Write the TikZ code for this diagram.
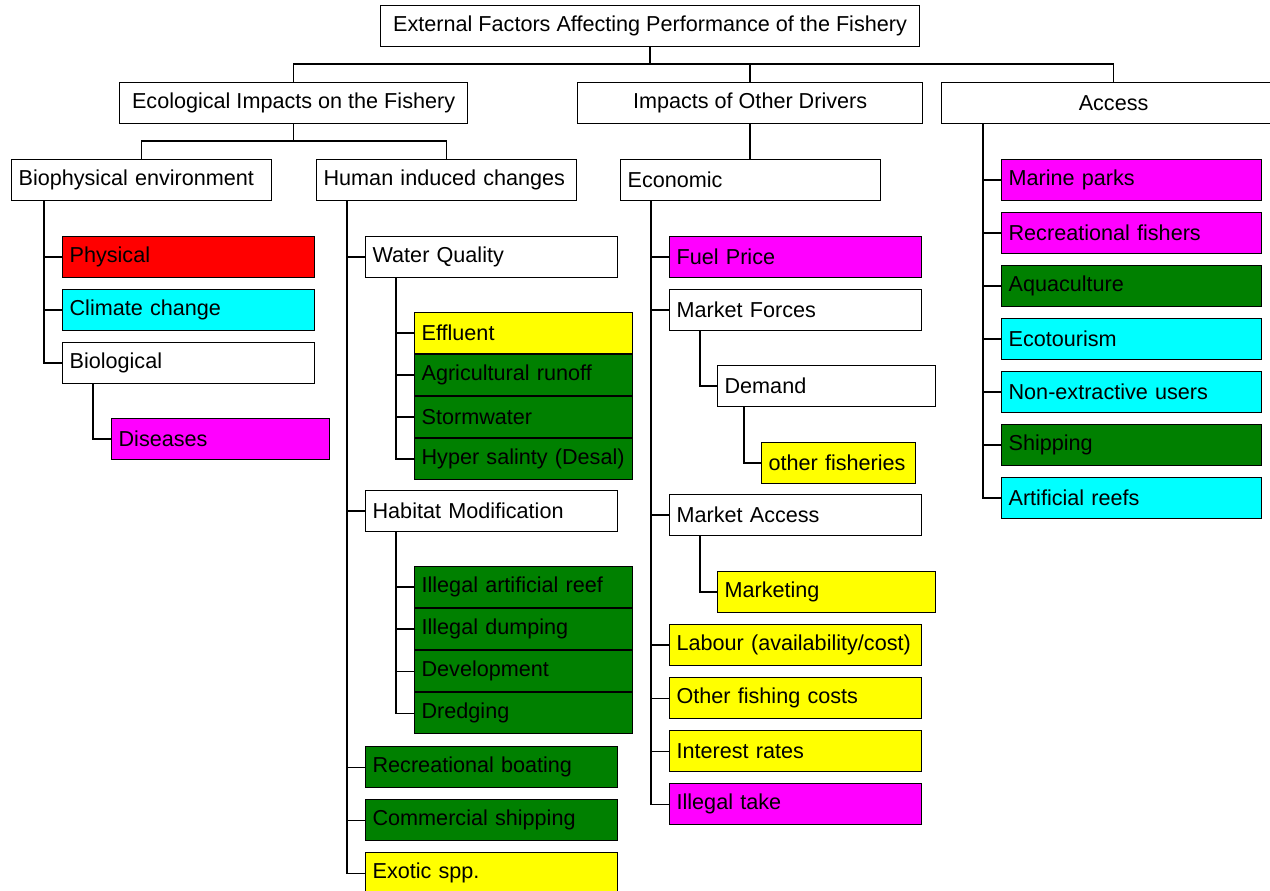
\documentclass[tikz,border=0pt]{standalone}
\usepackage{fontspec}
\setmainfont{Liberation Sans}
\usetikzlibrary{calc}

\definecolor{fred}{HTML}{FF0000}
\definecolor{fcyan}{HTML}{00FFFF}
\definecolor{fmagenta}{HTML}{FF00FF}
\definecolor{fyellow}{HTML}{FFFF00}
\definecolor{fgreen}{HTML}{008000}

\begin{document}
\begin{tikzpicture}
[x=0.02cm,y=-0.02cm,line width=0.7pt,%
  every node/.style={draw,line width=0.7pt,anchor=north west,fill=white,%
    minimum height=0.82cm,inner xsep=0.14cm,inner ysep=0pt,%
    font=\fontsize{12.3}{15}\selectfont,%
    execute at begin node={\hyphenpenalty=10000}},%
  head/.style={minimum width=#1,align=center},%
  wide/.style={text width=4.92cm,align=left},%
  mid/.style={text width=4.76cm,align=left},%
  narrow/.style={text width=4.08cm,align=left}]
\useasboundingbox (0,0) rectangle (1270,891);

\node[head=10.78cm] (ext) at (380,5) {External Factors Affecting Performance of the Fishery};
\node[head=6.96cm] (eco) at (119,82) {Ecological Impacts on the Fishery};
\node[head=6.9cm] (oth) at (577,82) {Impacts of Other Drivers};
\node[head=6.88cm] (acc) at (941,82) {Access};

\node[wide] (bio) at (11,159) {Biophysical environment};
\node[wide] (hum) at (316,159) {Human induced changes};
\node[wide] (econ) at (620,159) {Economic};

\node[mid,fill=fred] (phys) at (62,236) {Physical};
\node[mid,fill=fcyan] (clim) at (62,289) {Climate change};
\node[mid] (biol) at (62,342) {Biological};
\node[narrow,fill=fmagenta] (dis) at (111,418) {Diseases};

\node[mid] (wq) at (365,236) {Water Quality};
\node[narrow,fill=fyellow] (eff) at (414,312) {Effluent};
\node[narrow,fill=fgreen] (agri) at (414,354) {Agricultural runoff};
\node[narrow,fill=fgreen] (storm) at (414,396) {Stormwater};
\node[narrow,fill=fgreen] (hyper) at (414,438) {Hyper salinty (Desal)};
\node[mid] (hab) at (365,490) {Habitat Modification};
\node[narrow,fill=fgreen] (reef) at (414,566) {Illegal artificial reef};
\node[narrow,fill=fgreen] (dump) at (414,608) {Illegal dumping};
\node[narrow,fill=fgreen] (dev) at (414,650) {Development};
\node[narrow,fill=fgreen] (dredge) at (414,692) {Dredging};
\node[mid,fill=fgreen] (rboat) at (365,746) {Recreational boating};
\node[mid,fill=fgreen] (cship) at (365,799) {Commercial shipping};
\node[mid,fill=fyellow] (exotic) at (365,852) {Exotic spp.};

\node[mid,fill=fmagenta] (fuel) at (669,236) {Fuel Price};
\node[mid] (mf) at (669,289) {Market Forces};
\node[narrow] (dem) at (717,365) {Demand};
\node[fill=fyellow,text width=2.8cm,align=left] (ofish) at (761,442) {other fisheries};
\node[mid] (ma) at (669,494) {Market Access};
\node[narrow,fill=fyellow] (mkt) at (717,571) {Marketing};
\node[mid,fill=fyellow] (lab) at (669,624) {Labour (availability/cost)};
\node[mid,fill=fyellow] (ofc) at (669,677) {Other fishing costs};
\node[mid,fill=fyellow] (int) at (669,730) {Interest rates};
\node[mid,fill=fmagenta] (take) at (669,783) {Illegal take};

\node[wide,fill=fmagenta] (park) at (1001,159) {Marine parks};
\node[wide,fill=fmagenta] (rfish) at (1001,212) {Recreational fishers};
\node[wide,fill=fgreen] (aqua) at (1001,265) {Aquaculture};
\node[wide,fill=fcyan] (eco2) at (1001,318) {Ecotourism};
\node[wide,fill=fcyan] (nonex) at (1001,371) {Non-extractive users};
\node[wide,fill=fgreen] (ship) at (1001,424) {Shipping};
\node[wide,fill=fcyan] (areef) at (1001,477) {Artificial reefs};

\coordinate (j0) at (ext.south |- 0,64);
\draw (ext.south) -- (j0);
\draw (eco.north) |- (j0) -| (acc.north);
\draw (oth.north) -- (oth.north |- j0);

\coordinate (j1) at (eco.south |- 0,141);
\draw (eco.south) -- (j1);
\draw (bio.north) |- (j1) -| (hum.north);
\draw (oth.south) -- (oth.south |- econ.north);

\foreach \c in {phys,clim,biol}
  \draw ([xshift=0.66cm]bio.south west) |- (\c.west);
\draw ([xshift=0.62cm]biol.south west) |- (dis.west);

\foreach \c in {wq,hab,rboat,cship,exotic}
  \draw ([xshift=0.62cm]hum.south west) |- (\c.west);
\foreach \c in {eff,agri,storm,hyper}
  \draw ([xshift=0.62cm]wq.south west) |- (\c.west);
\foreach \c in {reef,dump,dev,dredge}
  \draw ([xshift=0.62cm]hab.south west) |- (\c.west);

\foreach \c in {fuel,mf,ma,lab,ofc,int,take}
  \draw ([xshift=0.62cm]econ.south west) |- (\c.west);
\draw ([xshift=0.62cm]mf.south west) |- (dem.west);
\draw ([xshift=0.54cm]dem.south west) |- (ofish.west);
\draw ([xshift=0.62cm]ma.south west) |- (mkt.west);

\foreach \c in {park,rfish,aqua,eco2,nonex,ship,areef}
  \draw ([xshift=0.84cm]acc.south west) |- (\c.west);
\end{tikzpicture}
\end{document}
